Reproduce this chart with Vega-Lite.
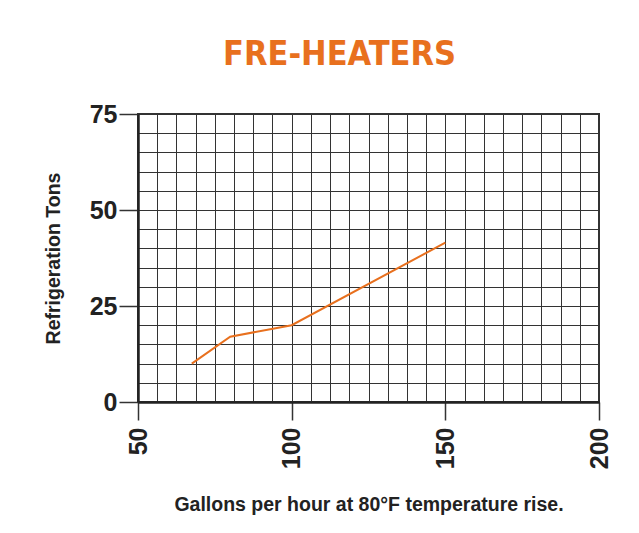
{
  "$schema": "https://vega.github.io/schema/vega-lite/v6.json",
  "autosize": "none",
  "padding": {"left": 138, "top": 114, "right": 40, "bottom": 131},
  "width": 461,
  "height": 288,
  "background": "white",
  "title": {
    "text": "FRE-HEATERS",
    "font": "DejaVu Sans Condensed, Roboto, sans-serif",
    "fontSize": 34,
    "fontWeight": "bold",
    "color": "#E8701E",
    "anchor": "middle",
    "frame": "group",
    "dx": -29,
    "offset": 30
  },
  "data": {
    "values": [
      {"gph": 67.5, "tons": 10},
      {"gph": 80, "tons": 17},
      {"gph": 100, "tons": 20},
      {"gph": 150, "tons": 41.5}
    ]
  },
  "mark": {"type": "line", "color": "#E8701E", "strokeWidth": 2},
  "encoding": {
    "x": {
      "field": "gph",
      "type": "quantitative",
      "scale": {"domain": [50, 200], "nice": false, "zero": false},
      "axis": {
        "title": "Gallons per hour at 80°F temperature rise.",
        "values": [50, 56.25, 62.5, 68.75, 75, 81.25, 87.5, 93.75, 100, 106.25, 112.5, 118.75, 125, 131.25, 137.5, 143.75, 150, 156.25, 162.5, 168.75, 175, 181.25, 187.5, 193.75, 200],
        "labelExpr": "datum.value % 50 === 0 ? datum.label : ''",
        "labelOverlap": false,
        "labelAngle": -90,
        "labelFont": "Liberation Sans",
        "labelFontSize": 25,
        "labelFontWeight": "bold",
        "labelColor": "#222222",
        "labelPadding": 7,
        "tickSize": 18,
        "tickWidth": 1.5,
        "tickColor": "#333333",
        "tickOpacity": {"condition": {"test": "datum.value % 50 === 0", "value": 1}, "value": 0},
        "domainColor": "#222222",
        "domainWidth": 2.5,
        "grid": true,
        "gridColor": "#333333",
        "gridWidth": 1,
        "gridOpacity": 1,
        "titleFont": "Liberation Sans",
        "titleFontSize": 19.5,
        "titleFontWeight": "bold",
        "titleColor": "#222222",
        "titlePadding": 27
      }
    },
    "y": {
      "field": "tons",
      "type": "quantitative",
      "scale": {"domain": [0, 75], "nice": false},
      "axis": {
        "title": "Refrigeration Tons",
        "values": [0, 5, 10, 15, 20, 25, 30, 35, 40, 45, 50, 55, 60, 65, 70, 75],
        "labelExpr": "datum.value % 25 === 0 ? datum.label : ''",
        "labelOverlap": false,
        "labelFont": "Liberation Sans",
        "labelFontSize": 25,
        "labelFontWeight": "bold",
        "labelColor": "#222222",
        "labelPadding": 2,
        "tickSize": 19,
        "tickWidth": 1.5,
        "tickColor": "#333333",
        "tickOpacity": {"condition": {"test": "datum.value % 25 === 0", "value": 1}, "value": 0},
        "domainColor": "#222222",
        "domainWidth": 2.5,
        "grid": true,
        "gridColor": "#333333",
        "gridWidth": 1,
        "gridOpacity": 1,
        "titleFont": "Liberation Sans",
        "titleFontSize": 19.5,
        "titleFontWeight": "bold",
        "titleColor": "#222222",
        "titlePadding": 26
      }
    }
  },
  "config": {
    "view": {"stroke": "#333333", "strokeWidth": 2}
  }
}
